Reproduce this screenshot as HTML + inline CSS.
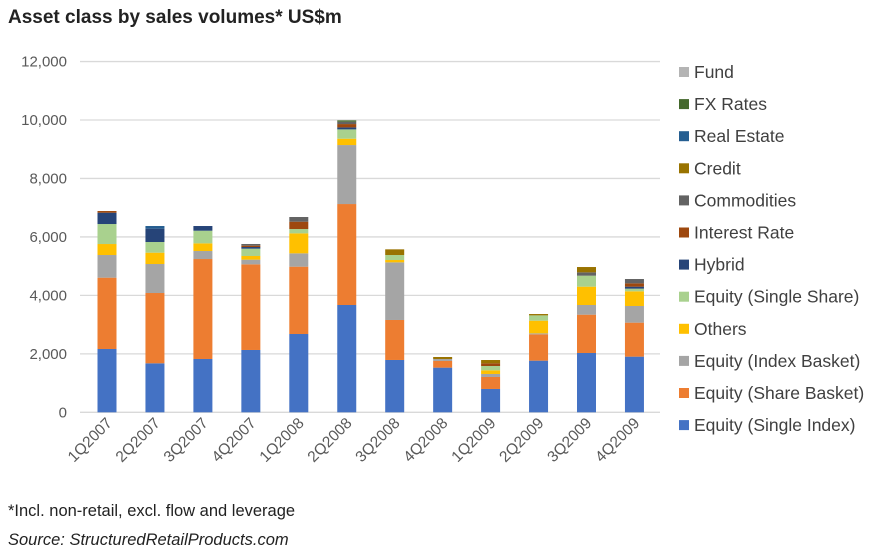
<!DOCTYPE html>
<html><head><meta charset="utf-8"><style>
body{margin:0;background:#fff;font-family:"Liberation Sans",Arial,sans-serif;}
#wrap{position:relative;width:884px;height:552px;overflow:hidden;}
</style></head><body>
<div id="wrap">
<svg id="chart" width="884" height="552"></svg>
</div>
<script>
const categories=["1Q2007","2Q2007","3Q2007","4Q2007","1Q2008","2Q2008","3Q2008","4Q2008","1Q2009","2Q2009","3Q2009","4Q2009"];
const seriesNames=["Equity (Single Index)","Equity (Share Basket)","Equity (Index Basket)","Others","Equity (Single Share)","Hybrid","Interest Rate","Commodities","Credit","Real Estate","FX Rates","Fund"];
const seriesColors=["#4472C4","#ED7D31","#A5A5A5","#FFC000","#A9D18E","#264478","#9E480E","#636363","#997300","#255E91","#43682B","#B4B4B4"];
const singleIndex=[2166,1676,1824,2132,2679,3671,1790,1528,798,1767,2029,1904];
const shareBasket=[2440,2405,3420,2930,2303,3454,1368,228,410,900,1311,1163];
const indexBasket=[775,992,274,160,456,2018,1972,68,103,34,331,570];
const others=[376,388,262,125,684,217,80,0,125,433,627,502];
const singleShare=[684,365,433,251,148,319,171,0,148,182,376,91];
const hybrid=[388,456,160,57,0,68,0,0,0,0,0,68];
const interestRate=[57,0,0,46,251,114,0,0,91,0,0,114];
const commodities=[0,0,0,57,160,80,0,0,0,0,114,148];
const credit=[0,0,0,0,0,0,194,68,114,46,182,0];
const realEstate=[0,91,0,0,0,0,0,0,0,0,0,0];
const fxRates=[0,0,0,0,0,46,0,0,0,0,0,0];
const fund=[0,0,0,0,0,0,0,0,0,0,0,0];
const yTicks=[0,2000,4000,6000,8000,10000,12000];
const yTickLabels=["0","2,000","4,000","6,000","8,000","10,000","12,000"];
const seriesData=[singleIndex,shareBasket,indexBasket,others,singleShare,hybrid,interestRate,commodities,credit,realEstate,fxRates,fund];

const NS="http://www.w3.org/2000/svg";
const svg=document.getElementById('chart');
function mk(tag,attrs,parent){const e=document.createElementNS(NS,tag);for(const k in attrs)e.setAttribute(k,attrs[k]);(parent||svg).appendChild(e);return e;}
const y0=412.3,yPerUnit=(412.3-120)/10000;
function yScale(v){return y0-v*yPerUnit;}
function xScale(i){return 107+i*47.95;}
const barW=19;

let t=mk('text',{x:8,y:23,'font-size':'19','font-weight':'bold',fill:'#222'});
t.textContent="Asset class by sales volumes* US$m";



yTicks.forEach((v,i)=>{
  const g=mk('line',{x1:80,x2:660,y1:yScale(v),y2:yScale(v),stroke:'#d9d9d9','stroke-width':1.3});
  
  
  const l=mk('text',{x:67,y:yScale(v)+5,'text-anchor':'end','font-size':'15',fill:'#595959'});
  l.textContent=yTickLabels[i];
  
  
});

categories.forEach((c,i)=>{
  let acc=0;
  seriesData.forEach((s,j)=>{
    const v=s[i];if(!v){return;}
    const r=mk('rect',{x:xScale(i)-barW/2,y:yScale(acc+v),width:barW,height:v*yPerUnit,fill:seriesColors[j]});
    
    
    acc+=v;
  });
  const cx=xScale(i)+6,cy=424;
  const l=mk('text',{x:cx,y:cy,'text-anchor':'end','font-size':'15.5',fill:'#595959',transform:`rotate(-45 ${cx} ${cy})`});
  l.textContent=c;
  
  
});

for(let k=seriesNames.length-1;k>=0;k--){
  const idx=seriesNames.length-1-k;
  const y=72+idx*32.1;
  const sq=mk('rect',{x:679,y:y-5,width:10,height:10,fill:seriesColors[k]});
  
  
  const tx=mk('text',{x:694,y:y+6,'font-size':'17.5',fill:'#404040'});
  tx.textContent=seriesNames[k];
  
  
}

let f=mk('text',{x:8,y:516,'font-size':'16.5',fill:'#222'});
f.textContent="*Incl. non-retail, excl. flow and leverage";


let s=mk('text',{x:8,y:545,'font-size':'16.5','font-style':'italic',fill:'#222'});
s.textContent="Source: StructuredRetailProducts.com";


</script>
</body></html>
